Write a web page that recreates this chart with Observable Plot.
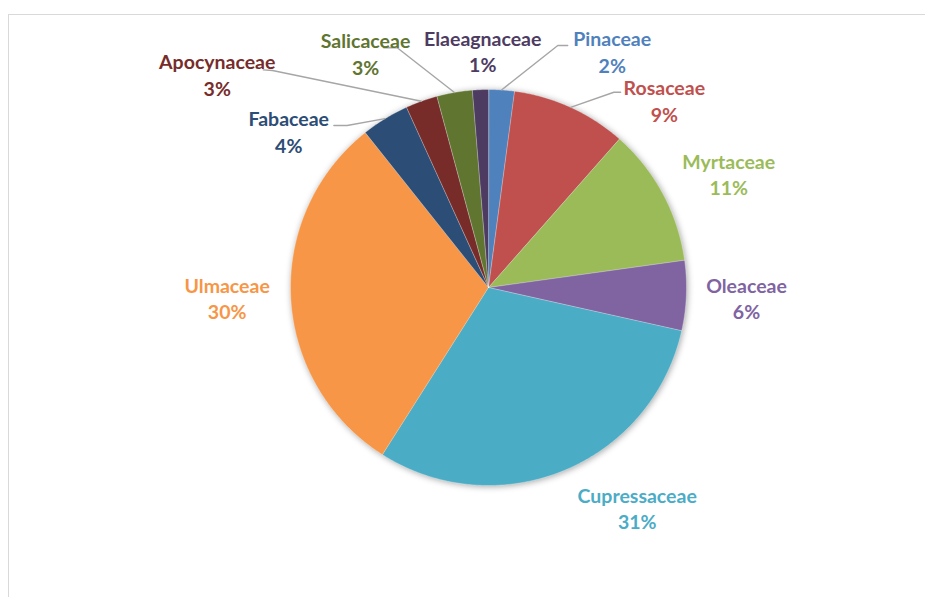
<!DOCTYPE html>
<html><head><meta charset="utf-8">
<script src="https://cdn.jsdelivr.net/npm/d3@7"></script>
<script src="https://cdn.jsdelivr.net/npm/@observablehq/plot@0.6"></script>
<style>
body{margin:0;background:#fff;}
#wrap{position:relative;width:925px;height:597px;overflow:hidden;}
#border{position:absolute;left:8px;top:14px;width:1200px;height:1200px;border:1.5px solid #d9d9d9;box-sizing:border-box;}
#chart{position:absolute;left:0;top:0;}
</style></head><body>
<div id="wrap"><div id="border"></div><div id="chart"></div></div>
<script>
// ---- data ----
const families = ["Pinaceae","Rosaceae","Myrtaceae","Oleaceae","Cupressaceae","Ulmaceae","Fabaceae","Apocynaceae","Salicaceae","Elaeagnaceae"];
const shares   = [2.1, 9.4, 11.3, 5.7, 30.5, 30.3, 3.9, 2.6, 2.9, 1.3];
const colors   = ["#4F81BD","#C0504D","#9BBB59","#8064A2","#4BACC6","#F79646","#2C4D75","#772C2A","#5F7530","#4D3B62"];

// ---- label layout (in pie-radius units, x right / y up) ----
const labelPos = {
  Pinaceae:[0.625,1.184], Rosaceae:[0.888,0.937], Myrtaceae:[1.213,0.566], Oleaceae:[1.303,-0.061],
  Cupressaceae:[0.751,-1.121], Ulmaceae:[-1.320,-0.061], Fabaceae:[-1.009,0.780],
  Apocynaceae:[-1.370,1.068], Salicaceae:[-0.621,1.174], Elaeagnaceae:[-0.029,1.188]
};
const leaderPts = {
  Pinaceae:[[0.350,1.222],[0.400,1.222]],
  Rosaceae:[[0.633,0.986],[0.667,0.986]],
  Salicaceae:[[-0.461,1.211],[-0.529,1.211]],
  Apocynaceae:[[-1.091,1.096],[-1.138,1.099]],
  Fabaceae:[[-0.714,0.818],[-0.781,0.818]]
};

const W = 925, H = 597, CX = 488, CY = 287, R = 198;
const total = d3.sum(shares);

// slice polygons
const slicePts = [];
const mids = {};
let acc = 0;
families.forEach((f, i) => {
  const a0 = acc / total * 2 * Math.PI;
  acc += shares[i];
  const a1 = acc / total * 2 * Math.PI;
  mids[f] = (a0 + a1) / 2;
  slicePts.push({name: f, x: 0, y: 0});
  const n = Math.max(2, Math.ceil((a1 - a0) / (Math.PI / 360)));
  for (let k = 0; k <= n; k++) {
    const a = a0 + (a1 - a0) * k / n;
    slicePts.push({name: f, x: Math.sin(a), y: Math.cos(a)});
  }
});

const labels = families.map((f, i) => ({
  name: f, x: labelPos[f][0], y: labelPos[f][1],
  text: f + "\n" + Math.round(shares[i] / total * 100) + "%"
}));

const leaders = [];
Object.entries(leaderPts).forEach(([f, pts]) => {
  const a = mids[f];
  leaders.push({name: f, x: Math.sin(a), y: Math.cos(a)});
  pts.forEach(p => leaders.push({name: f, x: p[0], y: p[1]}));
});

const plot = Plot.plot({
  width: W, height: H,
  margin: 0,
  x: {domain: [-CX / R, (W - CX) / R], axis: null},
  y: {domain: [-(H - CY) / R, CY / R], axis: null},
  color: {domain: families, range: colors},
  style: {background: "transparent", fontFamily: "Lato, 'Open Sans', sans-serif"},
  marks: [
    Plot.line(slicePts, {x: "x", y: "y", z: "name", fill: "name", stroke: "#ffffff", strokeWidth: 0.5, strokeOpacity: 0.6, curve: "linear-closed"}),
    Plot.line(leaders, {x: "x", y: "y", z: "name", stroke: "#A6A6A6", strokeWidth: 1.4}),
    Plot.text(labels, {x: "x", y: "y", text: "text", fill: "name", fontSize: 19.5, fontWeight: "bold", lineHeight: 1.35, dy: -2, textAnchor: "middle", lineAnchor: "middle"})
  ]
});
const g = plot.querySelector('g[aria-label="line"]');
if (g) g.style.filter = "drop-shadow(1px 1px 3px rgba(0,0,0,0.35))";
document.getElementById("chart").appendChild(plot);
</script>
</body></html>
